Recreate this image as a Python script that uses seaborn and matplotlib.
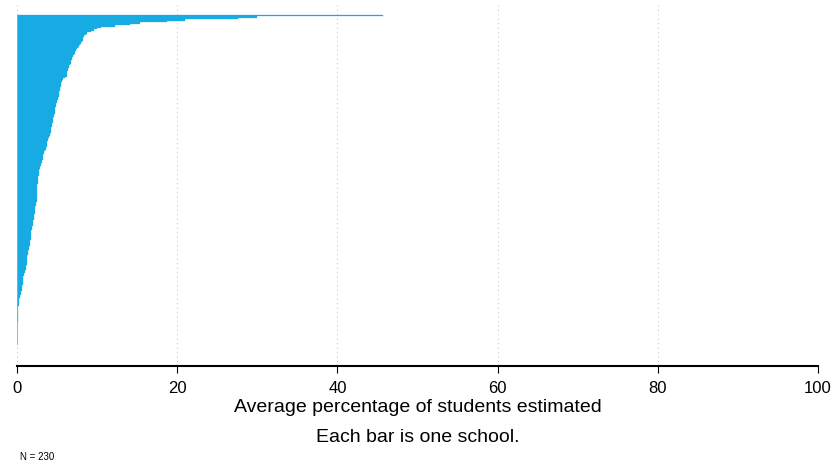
import matplotlib
matplotlib.use("Agg")
import matplotlib.pyplot as plt
import seaborn as sns
import pandas as pd
from matplotlib import font_manager

# Average percentage of students estimated, one value per school (sorted)
values = [
    45.7, 30.0, 27.6, 21.0, 18.7, 15.4, 14.1, 12.2, 10.5, 10.0, 9.6, 9.2, 8.8, 8.6,
    8.4, 8.3, 8.3, 8.2,
    8.1, 8.0, 7.9, 7.8, 7.6,
    7.5, 7.4, 7.3, 7.2,
    7.1, 7.0, 6.9, 6.9,
    6.8, 6.7, 6.7, 6.6,
    6.5, 6.5, 6.4, 6.4, 6.3, 6.3, 6.2, 6.2,
    6.0, 5.8, 5.6,
    5.6, 5.5, 5.5, 5.5, 5.4, 5.4, 5.4,
    5.3, 5.3, 5.2, 5.2, 5.1, 5.1, 5.0,
    5.0, 4.9, 4.9, 4.9, 4.8, 4.8, 4.8, 4.7, 4.7, 4.6, 4.6, 4.5, 4.5,
    4.5, 4.5, 4.4, 4.4, 4.4,
    4.3, 4.3, 4.2, 4.2, 4.1, 4.1, 4.0, 4.0, 3.9, 3.9,
    3.8, 3.8, 3.7, 3.7, 3.6, 3.6, 3.5,
    3.4, 3.4, 3.3, 3.3, 3.2,
    3.2, 3.1, 3.1, 3.0, 3.0,
    2.9, 2.9, 2.8, 2.8, 2.8, 2.7, 2.7, 2.6, 2.6,
    2.6, 2.6, 2.6, 2.6, 2.5, 2.5, 2.5, 2.5, 2.5, 2.5, 2.5, 2.5, 2.5, 2.5, 2.5, 2.5, 2.4, 2.4, 2.4,
    2.3, 2.3, 2.2, 2.2,
    2.2, 2.2, 2.1, 2.1, 2.1, 2.1, 2.0, 2.0, 2.0, 2.0,
    1.9, 1.9, 1.9, 1.8, 1.8, 1.8, 1.75,
    1.7, 1.7, 1.7, 1.6, 1.6, 1.6, 1.6, 1.5, 1.5, 1.5,
    1.4, 1.4, 1.4, 1.3, 1.3, 1.3, 1.25,
    1.2, 1.2, 1.2, 1.1, 1.1, 1.1, 1.1,
    1.0, 1.0, 0.9, 0.9, 0.8, 0.8, 0.75,
    0.7, 0.7, 0.7, 0.65, 0.6, 0.6, 0.6,
    0.5, 0.5, 0.45, 0.4, 0.35, 0.3, 0.25,
    0.25, 0.2, 0.2, 0.2, 0.15, 0.15, 0.15, 0.15, 0.12, 0.12, 0.12, 0.1, 0.1, 0.1, 0.1,
    0, 0, 0, 0, 0, 0, 0, 0, 0, 0, 0, 0, 0, 0, 0, 0,
]
assert len(values) == 230, len(values)
schools = [f"s{i}" for i in range(len(values))]
xticks = [0, 20, 40, 60, 80, 100]
xlabel = "Average percentage of students estimated"
subtitle = "Each bar is one school."
note = f"N = {len(values)}"

df = pd.DataFrame({"school": schools, "pct": values})

sns.set_theme(style="white")
avail = {f.name for f in font_manager.fontManager.ttflist}
fam = [f for f in ["Liberation Sans Narrow", "Liberation Sans", "DejaVu Sans"] if f in avail]
plt.rcParams["font.family"] = fam

W, H = 831, 466
fig = plt.figure(figsize=(W / 100, H / 100), dpi=100)
ax = fig.add_axes([17 / W, 1 - 366 / H, (818 - 17) / W, (366 - 5) / H])

blue = "#16ABE2"
sns.barplot(data=df, x="pct", y="school", orient="h", color=blue, width=1.0,
            edgecolor=blue, linewidth=0.2, saturation=1, ax=ax, zorder=3)

n = len(values)
ax.vlines(0, -0.5, n - 0.5, color="#A8A8A8", linewidth=1.2, zorder=4)

ax.set_xlim(0, 100)
ax.set_ylim(n - 0.5 + 14.6, -0.5 - 7)
ax.set_xticks(xticks)
ax.set_xticklabels([str(t) for t in xticks], fontsize=12)
ax.set_yticks([])
ax.set_ylabel("")
ax.set_xlabel("")
for x in xticks:
    ax.axvline(x, color="#C8C8C8", linestyle=(0, (1, 3)), linewidth=0.8, zorder=1)

for s in ["top", "right", "left"]:
    ax.spines[s].set_visible(False)
ax.spines["bottom"].set_color("black")
ax.spines["bottom"].set_linewidth(1.5)
ax.tick_params(axis="x", bottom=True, length=5, width=0.8, color="black", pad=6, labelcolor="black")

cx = (17 + 818) / 2 / W
fig.text(cx, 1 - 407 / H, xlabel, ha="center", va="center", fontsize=14, color="black")
fig.text(cx, 1 - 437 / H, subtitle, ha="center", va="center", fontsize=14, color="black")
fig.text(20 / W, 1 - 457 / H, note, ha="left", va="center", fontsize=7, color="black")

fig.savefig("out.png", dpi=100, facecolor="white")
